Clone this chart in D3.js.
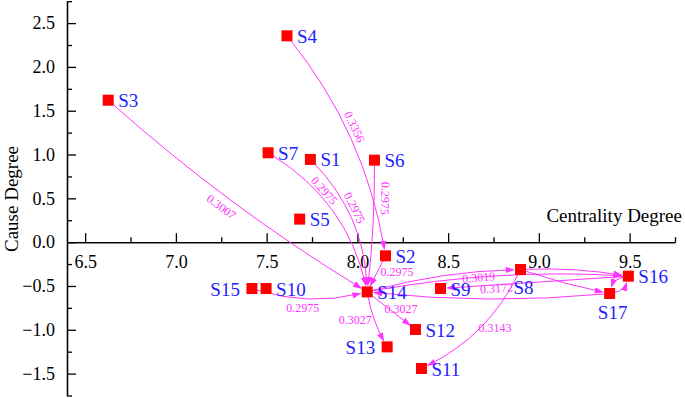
<!DOCTYPE html>
<html>
<head>
<meta charset="utf-8">
<script src="https://cdn.jsdelivr.net/npm/d3@7"></script>
<style>
  body { margin: 0; background: #fff; }
</style>
</head>
<body>
<svg id="chart" width="685" height="398"></svg>
<script>
// factors and their coordinates (centrality, cause)
var factors = ["S1", "S2", "S3", "S4", "S5", "S6", "S7", "S8", "S9", "S10", "S11", "S12", "S13", "S14", "S15", "S16", "S17"];
var centrality = [7.741, 8.155, 6.627, 7.612, 7.682, 8.094, 7.508, 8.899, 8.458, 7.497, 8.353, 8.320, 8.164, 8.054, 7.419, 9.493, 9.390];
var cause = [0.944, -0.156, 1.620, 2.355, 0.263, 0.936, 1.020, -0.312, -0.529, -0.529, -1.442, -0.997, -1.195, -0.567, -0.529, -0.388, -0.586];

// influence relations
var edgeFrom = ["S3", "S4", "S7", "S1", "S6", "S2", "S15", "S14", "S14", "S14", "S16", "S8", "S8", "S8", "S14", "S17", "S16", "S17"];
var edgeTo = ["S14", "S2", "S14", "S14", "S14", "S14", "S14", "S12", "S13", "S8", "S9", "S11", "S16", "S17", "S16", "S14", "S17", "S16"];
var edgeWeight = ["0.3007", "0.3356", "0.2975", "0.2975", "0.2975", "0.2975", "0.2975", "0.3027", "0.3027", "0.3019", "0.3172", "0.3143", "", "", "", "", "", ""];

var xTicks = [6.5, 7.0, 7.5, 8.0, 8.5, 9.0, 9.5];
var xMinor = [6.75, 7.25, 7.75, 8.25, 8.75, 9.25, 9.75];
var yTicks = [-1.5, -1.0, -0.5, 0.0, 0.5, 1.0, 1.5, 2.0, 2.5];
var yMinor = [-1.75, -1.25, -0.75, -0.25, 0.25, 0.75, 1.25, 1.75, 2.25, 2.75];

// drawing layout (curvature and label placement per edge)
var bend = [0.045, -0.13, -0.21, -0.19, -0.03, 0, 0.14, 0, 0.08, -0.06, 0, -0.17, -0.05, 0.03, -0.06, -0.05, 0.3, 0.3];
var labelLayout = [
  { t: 0.48, along: true, off: 11 },
  { t: 0.46, along: true, off: -8 },
  { t: 0.37, along: true, off: -6 },
  { t: 0.43, along: true, off: -7 },
  { t: 0.27, along: true, off: -11 },
  { t: 0.40, along: false, dx: 19, dy: 1 },
  { t: 0.45, along: false, dx: -1, dy: 9.5 },
  { t: 0.50, along: false, dx: 10, dy: -1 },
  { t: 0.50, along: false, dx: -19, dy: 0 },
  { t: 0.75, along: true, off: 6 },
  { t: 0.72, along: true, off: -3.5 },
  { t: 0.45, along: false, dx: 10, dy: 5 }
];
var nameSide = { S15: "left", S13: "left", S17: "below", S8: "below" };

var svg = d3.select("#chart");
var pink = "#ff33ff";
var serif = "'Liberation Serif', 'Times New Roman', Times, serif";

var x = d3.scaleLinear().domain([6.4, 9.75]).range([67, 675]);
var y = d3.scaleLinear().domain([-1.75, 2.75]).range([395.5, 1.2]);

// axes, ticks pointing inwards
svg.append("g").attr("transform", "translate(0," + y(0) + ")")
  .call(d3.axisBottom(x).tickValues(xMinor).tickSize(-5).tickSizeOuter(0).tickFormat(""));
svg.append("g").attr("transform", "translate(0," + y(0) + ")")
  .call(d3.axisBottom(x).tickValues(xTicks).tickSize(-9).tickSizeOuter(0).tickPadding(13).tickFormat(d3.format(".1f")));
svg.append("g").attr("transform", "translate(" + x(6.4) + ",0)")
  .call(d3.axisLeft(y).tickValues(yMinor).tickSize(-5).tickSizeOuter(0).tickFormat(""));
svg.append("g").attr("transform", "translate(" + x(6.4) + ",0)")
  .call(d3.axisLeft(y).tickValues(yTicks).tickSize(-9).tickSizeOuter(0).tickPadding(12).tickFormat(d3.format(".1f")));

svg.selectAll(".domain, .tick line").attr("stroke", "#000").attr("stroke-width", 1.3);
svg.selectAll(".tick text").attr("font-size", 18).attr("fill", "#000");

svg.append("text").attr("transform", "translate(18,199) rotate(-90)")
  .attr("text-anchor", "middle").attr("font-size", 19).text("Cause Degree");
svg.append("text").attr("x", 682).attr("y", 222)
  .attr("text-anchor", "end").attr("font-size", 19).text("Centrality Degree");

svg.append("defs").append("marker")
  .attr("id", "arr").attr("viewBox", "0 -4 9 8")
  .attr("markerUnits", "userSpaceOnUse")
  .attr("markerWidth", 9).attr("markerHeight", 8)
  .attr("refX", 8).attr("refY", 0).attr("orient", "auto")
  .append("path").attr("d", "M0,-3.2L9,0L0,3.2Z").attr("fill", pink);

function pos(name) {
  var i = factors.indexOf(name);
  return [x(centrality[i]), y(cause[i])];
}

function unit(a, b) {
  var dx = b[0] - a[0], dy = b[1] - a[1], l = Math.sqrt(dx * dx + dy * dy);
  return [dx / l, dy / l];
}

var edges = edgeFrom.map(function (f, i) {
  var p1 = pos(f), p2 = pos(edgeTo[i]);
  var dx = p2[0] - p1[0], dy = p2[1] - p1[1];
  var len = Math.sqrt(dx * dx + dy * dy);
  var c = [(p1[0] + p2[0]) / 2 - dy / len * bend[i] * len, (p1[1] + p2[1]) / 2 + dx / len * bend[i] * len];
  var u1 = unit(p1, c), u2 = unit(p2, c);
  var s = [p1[0] + u1[0] * 5, p1[1] + u1[1] * 5];
  var e = [p2[0] + u2[0] * 7, p2[1] + u2[1] * 7];
  return { i: i, s: s, c: c, e: e, label: edgeWeight[i] };
});

svg.append("g").selectAll("path").data(edges).enter().append("path")
  .attr("d", function (d) { return "M" + d.s + "Q" + d.c + " " + d.e; })
  .attr("fill", "none").attr("stroke", pink).attr("stroke-width", 1)
  .attr("marker-end", "url(#arr)");

function qPoint(d, t) {
  var a = (1 - t) * (1 - t), b = 2 * t * (1 - t), c = t * t;
  return [a * d.s[0] + b * d.c[0] + c * d.e[0], a * d.s[1] + b * d.c[1] + c * d.e[1]];
}
function qTangent(d, t) {
  return [2 * (1 - t) * (d.c[0] - d.s[0]) + 2 * t * (d.e[0] - d.c[0]),
          2 * (1 - t) * (d.c[1] - d.s[1]) + 2 * t * (d.e[1] - d.c[1])];
}

svg.append("g").selectAll("text").data(edges.filter(function (d) { return d.label; }))
  .enter().append("text")
  .attr("font-size", 12).attr("fill", pink)
  .attr("text-anchor", "middle").attr("dominant-baseline", "central")
  .attr("transform", function (d) {
    var L = labelLayout[d.i];
    var p = qPoint(d, L.t);
    var tg = qTangent(d, L.t);
    var tl = Math.sqrt(tg[0] * tg[0] + tg[1] * tg[1]);
    if (L.along) {
      var nx = -tg[1] / tl, ny = tg[0] / tl;
      var a = Math.atan2(tg[1], tg[0]) * 180 / Math.PI;
      while (a > 100) a -= 180;
      while (a <= -80) a += 180;
      return "translate(" + (p[0] + nx * L.off) + "," + (p[1] + ny * L.off) + ") rotate(" + a + ")";
    }
    return "translate(" + (p[0] + L.dx) + "," + (p[1] + L.dy) + ")";
  })
  .text(function (d) { return d.label; });

// factor markers
svg.append("g").selectAll("rect").data(factors).enter().append("rect")
  .attr("x", function (d, i) { return x(centrality[i]) - 5.5; })
  .attr("y", function (d, i) { return y(cause[i]) - 5.5; })
  .attr("width", 11).attr("height", 11).attr("fill", "#ff0000");

svg.append("g").selectAll("text").data(factors).enter().append("text")
  .attr("font-size", 19).attr("fill", "#2222ff")
  .attr("x", function (d, i) {
    var s = nameSide[d], px = x(centrality[i]);
    if (s === "left") return px - 12;
    if (s === "below") return px + 3;
    return px + 10;
  })
  .attr("y", function (d, i) {
    var s = nameSide[d], py = y(cause[i]);
    if (s === "below") return py + 25;
    return py + 7;
  })
  .attr("text-anchor", function (d) {
    var s = nameSide[d];
    return s === "left" ? "end" : (s === "below" ? "middle" : "start");
  })
  .text(function (d) { return d; });

// serif everywhere, as in the original figure
svg.selectAll("g").attr("font-family", null);
svg.selectAll("text").attr("font-family", serif);
</script>
</body>
</html>
